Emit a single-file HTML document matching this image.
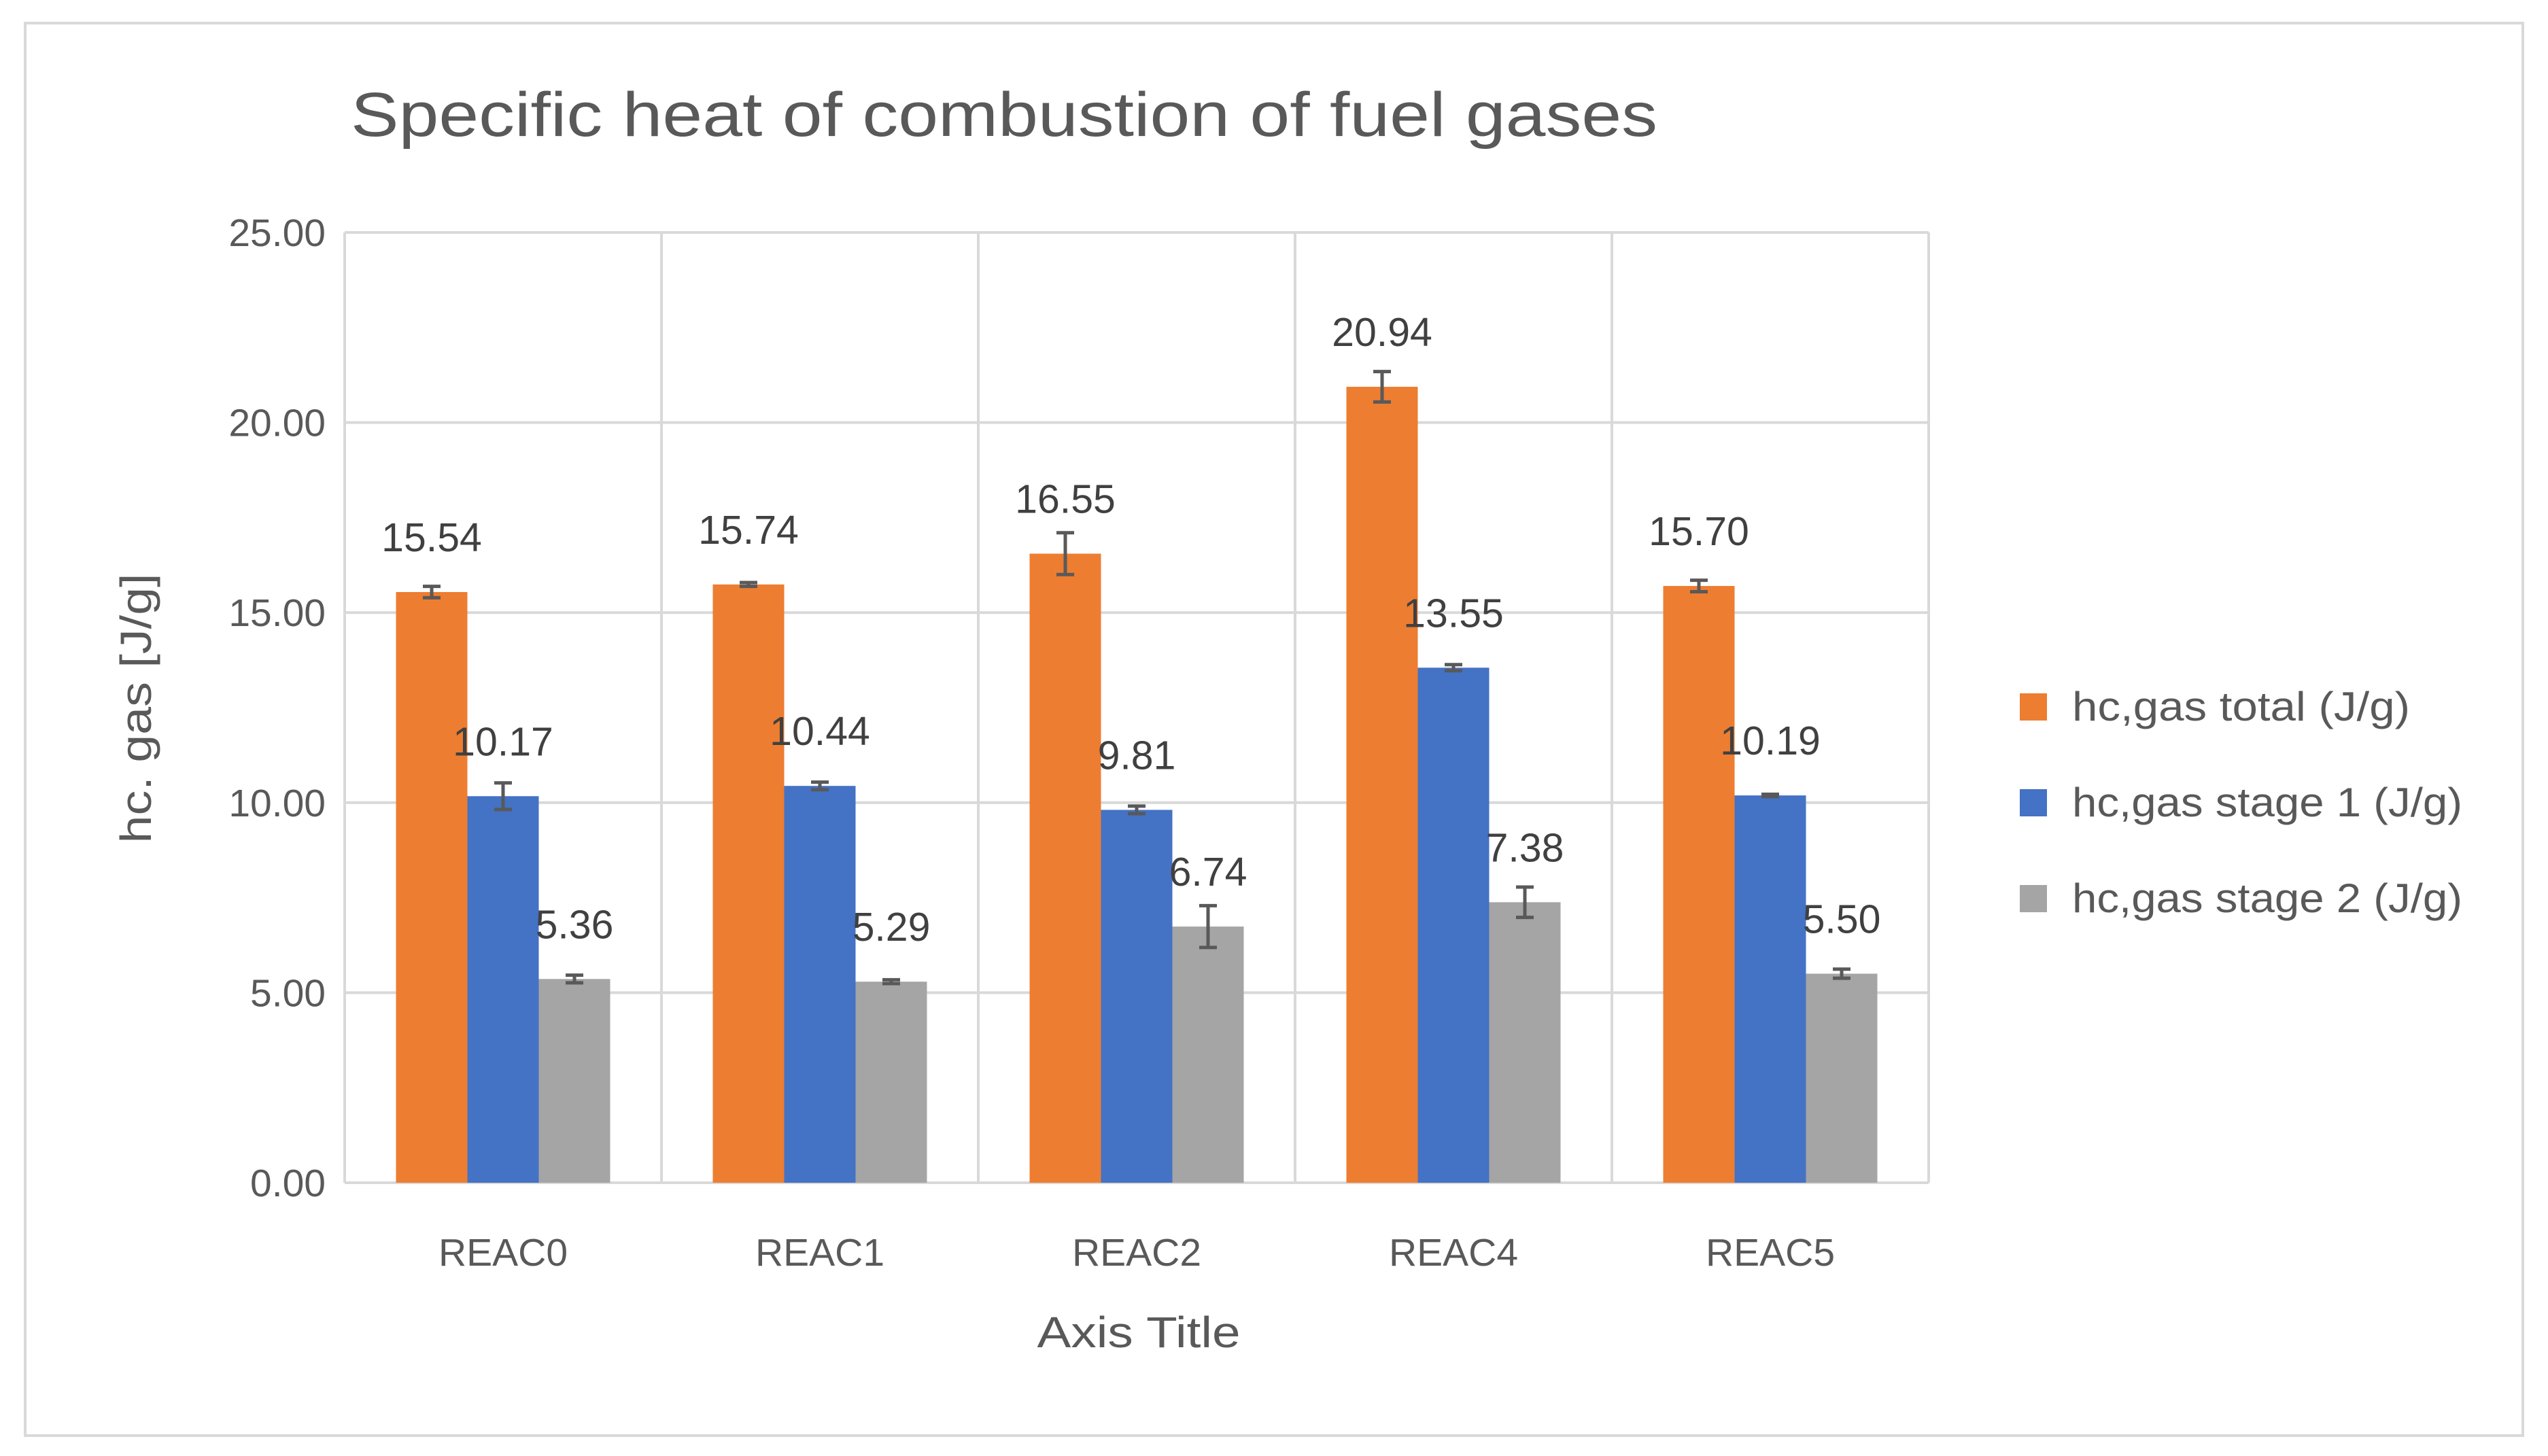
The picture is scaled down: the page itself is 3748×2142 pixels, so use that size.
<!DOCTYPE html>
<html><head><meta charset="utf-8"><style>
html,body{margin:0;padding:0;background:#fff;}
svg{display:block;font-family:"Liberation Sans",sans-serif;}
</style></head><body>
<svg id="chart" width="3748" height="2142" viewBox="0 0 3748 2142" xmlns="http://www.w3.org/2000/svg">
<rect x="37" y="34" width="3674" height="2078" fill="#fff" stroke="#d9d9d9" stroke-width="4"/>
<text x="516" y="200" font-size="92" fill="#595959" textLength="1922" lengthAdjust="spacingAndGlyphs">Specific heat of combustion of fuel gases</text>
<g id="grid"></g>
<g id="bars"></g>
<g id="labels"></g>
<text transform="translate(222,1042) rotate(-90)" text-anchor="middle" font-size="64" fill="#595959" textLength="397" lengthAdjust="spacingAndGlyphs">hc. gas [J/g]</text>
<text x="1675" y="1982" text-anchor="middle" font-size="64" fill="#595959" textLength="299" lengthAdjust="spacingAndGlyphs">Axis Title</text>
<g id="legend"></g>
</svg>
<script>
const categories=["REAC0","REAC1","REAC2","REAC4","REAC5"];
const seriesNames=["hc,gas total (J/g)","hc,gas stage 1 (J/g)","hc,gas stage 2 (J/g)"];
const totalVals=[15.54,15.74,16.55,20.94,15.70];
const stage1Vals=[10.17,10.44,9.81,13.55,10.19];
const stage2Vals=[5.36,5.29,6.74,7.38,5.50];
const totalErr=[0.15,0.05,0.55,0.4,0.15];
const stage1Err=[0.35,0.1,0.1,0.08,0.03];
const stage2Err=[0.1,0.05,0.55,0.4,0.12];
const yTicks=[0,5,10,15,20,25];
const colors=["#ED7D31","#4472C4","#A5A5A5"];
const legendLens=[497,574,574];
const NS="http://www.w3.org/2000/svg";
const L=507,R=2837,T=342,B=1740,yMax=25;
const y=v=>B-(v/yMax)*(B-T);
const catW=(R-L)/categories.length;
const barW=105;
function mk(tag,attrs,parent){const e=document.createElementNS(NS,tag);for(const k in attrs)e.setAttribute(k,attrs[k]);parent.appendChild(e);return e;}
const grid=document.getElementById('grid'),bars=document.getElementById('bars'),labels=document.getElementById('labels'),legend=document.getElementById('legend');
yTicks.forEach(t=>{
 const l=mk('line',{x1:L,x2:R,y1:y(t),y2:y(t),stroke:'#d9d9d9','stroke-width':4},grid);
 
 
 const tx=mk('text',{x:L-28,y:y(t)+20,'text-anchor':'end','font-size':57,fill:'#595959'},grid);
 tx.textContent=t.toFixed(2);
 
 
});
for(let i=0;i<=categories.length;i++){
 const l=mk('line',{x1:L+i*catW,x2:L+i*catW,y1:T,y2:B,stroke:'#d9d9d9','stroke-width':4},grid);
 
 
}
const vals=[totalVals,stage1Vals,stage2Vals],errs=[totalErr,stage1Err,stage2Err];
categories.forEach((c,i)=>{
 const gx=L+i*catW+(catW-3*barW)/2;
 vals.forEach((arr,s)=>{
  const v=arr[i],e=errs[s][i],x=gx+s*barW;
  const r=mk('rect',{x:x,y:y(v),width:barW,height:B-y(v),fill:colors[s]},bars);
  
  
  const cx=x+barW/2;
  const eb=mk('path',{d:`M${cx},${y(v+e)}V${y(v-e)}M${cx-13},${y(v+e)}H${cx+13}M${cx-13},${y(v-e)}H${cx+13}`,stroke:'#595959','stroke-width':5,fill:'none'},bars);
  
  
  const t=mk('text',{x:cx,y:y(v)-60,'text-anchor':'middle','font-size':59,fill:'#404040'},labels);
  t.textContent=v.toFixed(2);
  
  
 });
 const ct=mk('text',{x:L+(i+0.5)*catW,y:1862,'text-anchor':'middle','font-size':57,fill:'#595959'},labels);
 ct.textContent=c;
 
 
});
seriesNames.forEach((n,s)=>{
 const yy=1040+s*141;
 const g=mk('g',{},legend);
 
 
 mk('rect',{x:2971,y:yy-20,width:40,height:40,fill:colors[s]},g);
 const t=mk('text',{x:3048,y:yy+20,'font-size':60,fill:'#595959',textLength:legendLens[s],lengthAdjust:'spacingAndGlyphs'},g);
 t.textContent=n;
});
</script>
</body></html>
